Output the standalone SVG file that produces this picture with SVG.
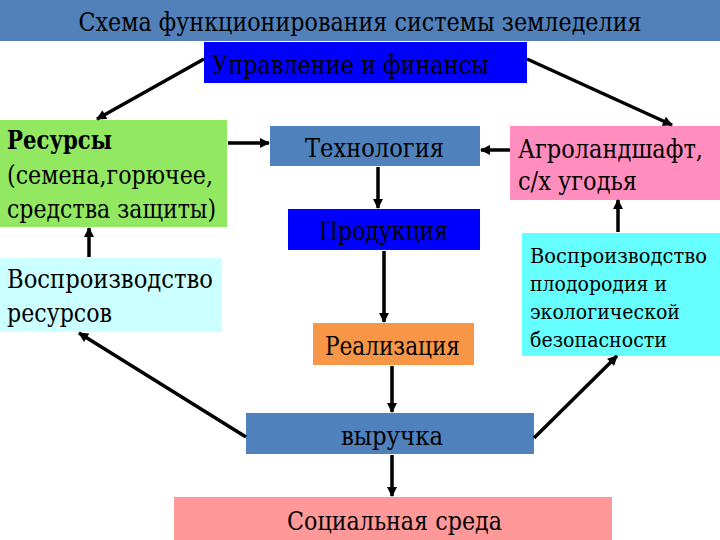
<svg xmlns="http://www.w3.org/2000/svg" width="720" height="540" viewBox="0 0 720 540">
<defs>
<style>
text{font-family:'DejaVu Serif','Liberation Serif',serif;fill:#000;font-size:26px}
.s{font-size:21px}
.b{font-weight:bold}
.ln{stroke:#000;stroke-width:3.5;fill:none;marker-end:url(#ah)}
</style>
<marker id="ah" viewBox="0 0 10 10" refX="9" refY="5" markerWidth="12" markerHeight="10" markerUnits="userSpaceOnUse" orient="auto">
<path d="M0,0 L10,5 L0,10 z" fill="#000"/>
</marker>
</defs>
<rect x="0" y="0" width="720" height="540" fill="#fff"/>
<g id="title">
<rect x="0" y="0" width="720" height="41" fill="#5281BA"/>
<text x="360" y="31" font-size="26" text-anchor="middle" textLength="563" lengthAdjust="spacingAndGlyphs">Схема функционирования системы земледелия</text>
</g>
<g id="upravlenie">
<rect x="204" y="42" width="323" height="41" fill="#0000FF"/>
<text x="212" y="74" textLength="277" lengthAdjust="spacingAndGlyphs">Управление и финансы</text>
</g>
<g id="resursy">
<rect x="0" y="120" width="227" height="107" fill="#92E860"/>
<text x="7" y="149" class="b" font-size="23" textLength="105" lengthAdjust="spacingAndGlyphs">Ресурсы</text>
<text x="7" y="184" textLength="206" lengthAdjust="spacingAndGlyphs">(семена,горючее,</text>
<text x="7" y="218" textLength="209" lengthAdjust="spacingAndGlyphs">средства защиты)</text>
</g>
<g id="vospr-resursov">
<rect x="0" y="258" width="222" height="74" fill="#CCFFFF"/>
<text x="7" y="288" textLength="206" lengthAdjust="spacingAndGlyphs">Воспроизводство</text>
<text x="7" y="322" textLength="105" lengthAdjust="spacingAndGlyphs">ресурсов</text>
</g>
<g id="tehnologiya">
<rect x="270" y="126" width="210" height="40" fill="#4F81BD"/>
<text x="305" y="157" textLength="139" lengthAdjust="spacingAndGlyphs">Технология</text>
</g>
<g id="produkciya">
<rect x="288" y="209" width="192" height="41" fill="#0000FF"/>
<text x="319" y="240" textLength="129" lengthAdjust="spacingAndGlyphs">Продукция</text>
</g>
<g id="realizaciya">
<rect x="313" y="323" width="161" height="42" fill="#F79646"/>
<text x="325" y="355" textLength="135" lengthAdjust="spacingAndGlyphs">Реализация</text>
</g>
<g id="agrolandshaft">
<rect x="510" y="126" width="210" height="74" fill="#FF8EBE"/>
<text x="518" y="158" font-size="23" textLength="185" lengthAdjust="spacingAndGlyphs">Агроландшафт,</text>
<text x="518" y="190" textLength="119" lengthAdjust="spacingAndGlyphs">с/х угодья</text>
</g>
<g id="vospr-plodorodiya">
<rect x="522" y="233" width="198" height="123" fill="#66FFFF"/>
<text x="530" y="263" class="s" textLength="177" lengthAdjust="spacingAndGlyphs">Воспроизводство</text>
<text x="530" y="291" class="s" textLength="137" lengthAdjust="spacingAndGlyphs">плодородия и</text>
<text x="530" y="319" class="s" textLength="150" lengthAdjust="spacingAndGlyphs">экологической</text>
<text x="530" y="347" class="s" textLength="137" lengthAdjust="spacingAndGlyphs">безопасности</text>
</g>
<g id="vyruchka">
<rect x="246" y="413" width="288" height="41" fill="#4F81BD"/>
<text x="341" y="445" textLength="102" lengthAdjust="spacingAndGlyphs">выручка</text>
</g>
<g id="socialnaya-sreda">
<rect x="174" y="497" width="438" height="43" fill="#FF9999"/>
<text x="287" y="530" textLength="215" lengthAdjust="spacingAndGlyphs">Социальная среда</text>
</g>
<g id="connectors">
<line class="ln" x1="204" y1="59" x2="97" y2="119"/>
<line class="ln" x1="527" y1="59" x2="672" y2="125"/>
<line class="ln" x1="228" y1="143" x2="269" y2="143"/>
<line class="ln" x1="510" y1="150" x2="481" y2="150"/>
<line class="ln" x1="378" y1="167" x2="378" y2="208"/>
<line class="ln" x1="384" y1="251" x2="384" y2="322"/>
<line class="ln" x1="392" y1="366" x2="392" y2="412"/>
<line class="ln" x1="392" y1="455" x2="392" y2="496"/>
<line class="ln" x1="246" y1="437" x2="79" y2="333"/>
<line class="ln" x1="534" y1="438" x2="617" y2="356"/>
<line class="ln" x1="89" y1="257" x2="89" y2="228"/>
<line class="ln" x1="618" y1="232" x2="618" y2="200"/>
</g>
</svg>
